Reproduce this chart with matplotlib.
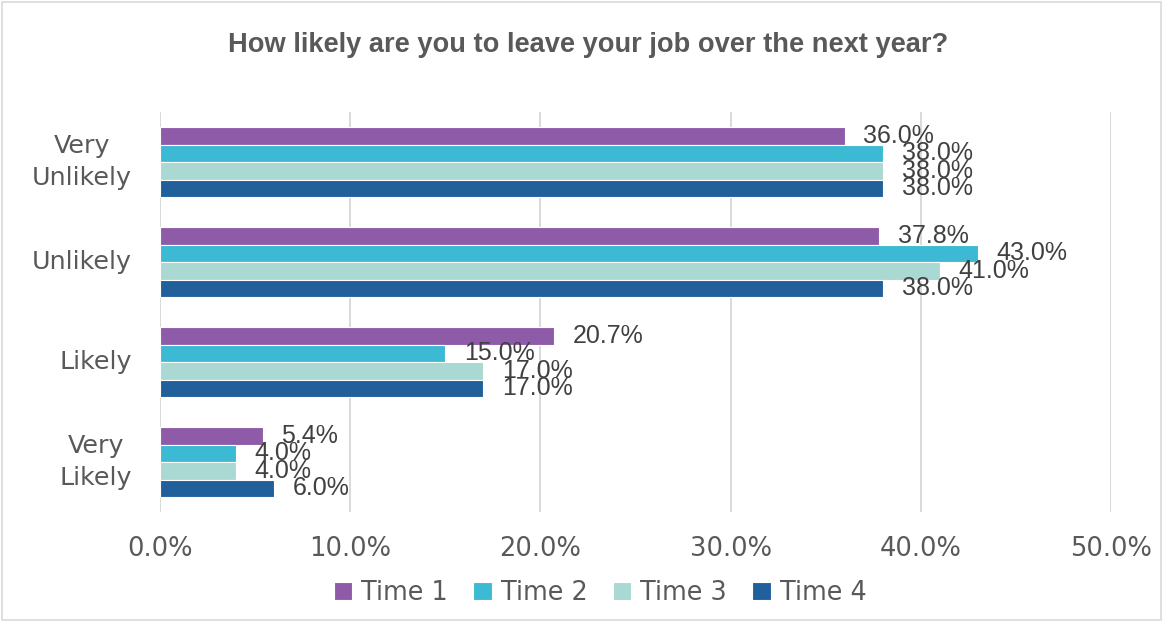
import matplotlib
matplotlib.use("Agg")
import matplotlib.pyplot as plt
import numpy as np
import matplotlib.transforms as mtransforms
from matplotlib.patches import Rectangle

categories = ["Very\nUnlikely", "Unlikely", "Likely", "Very\nLikely"]
series_names = ["Time 1", "Time 2", "Time 3", "Time 4"]
time1 = [36.0, 37.8, 20.7, 5.4]
time2 = [38.0, 43.0, 15.0, 4.0]
time3 = [38.0, 41.0, 17.0, 4.0]
time4 = [38.0, 38.0, 17.0, 6.0]
xticks = [0, 10, 20, 30, 40, 50]
xtick_labels = ["0.0%", "10.0%", "20.0%", "30.0%", "40.0%", "50.0%"]
colors = ["#8E5BA8", "#3DBAD3", "#AAD8D3", "#21609B"]
title = "How likely are you to leave your job over the next year?"

text_gray = "#595959"
label_gray = "#404040"

fig = plt.figure(figsize=(11.63, 6.22), dpi=100)
ax = fig.add_axes([160/1163, 1-512/622, (1111-160)/1163, 400/622])

series = [time1, time2, time3, time4]
y = np.arange(len(categories))
h = 0.175
off = mtransforms.ScaledTranslation(13.5/72, 0, fig.dpi_scale_trans)
for k, (vals, name, c) in enumerate(zip(series, series_names, colors)):
    offs = y - 0.35 + h/2 + k*h
    ax.barh(offs, vals, height=h, color=c, edgecolor="white",
            linewidth=0.8, label=name, zorder=3)
    for yy, v in zip(offs, vals):
        ax.text(v, yy, f"{v:.1f}%", va="center", ha="left",
                fontsize=18, color=label_gray, family="Liberation Sans",
                transform=ax.transData + off, zorder=4)

ax.set_xlim(0, 50)
ax.set_ylim(3.5, -0.5)
ax.set_xticks(xticks)
ax.set_xticklabels(xtick_labels, fontsize=18.5, color=text_gray, family="DejaVu Sans")
ax.set_yticks(y)
ax.set_yticklabels(categories, fontsize=18.3, color=text_gray, family="DejaVu Sans")
for lab in ax.get_yticklabels():
    lab.set_multialignment("center")
    lab.set_linespacing(1.4)
    lab.set_verticalalignment("center")
ax.tick_params(axis="x", length=0, pad=17)
ax.tick_params(axis="y", length=0, pad=20)
ax.grid(axis="x", color="#D9D9D9", linewidth=1.4, zorder=0)
for s in ax.spines.values():
    s.set_visible(False)

fig.text(588/1163, 1-45/622, title, ha="center", va="center",
         fontsize=19.6, fontweight="bold", color=text_gray, family="Liberation Sans")

leg = fig.legend(loc="center", bbox_to_anchor=(600/1163, 1-593/622), ncol=4,
                 frameon=False, fontsize=18.4, handlelength=0.72, handleheight=0.72,
                 handletextpad=0.35, columnspacing=1.0)
for t in leg.get_texts():
    t.set_color(text_gray)
    t.set_family("DejaVu Sans")

fig.patches.append(Rectangle((0.002, 0.003), 0.996, 0.994, transform=fig.transFigure,
                             fill=False, edgecolor="#D9D9D9", linewidth=1.2))

fig.savefig("out.png", dpi=100)
